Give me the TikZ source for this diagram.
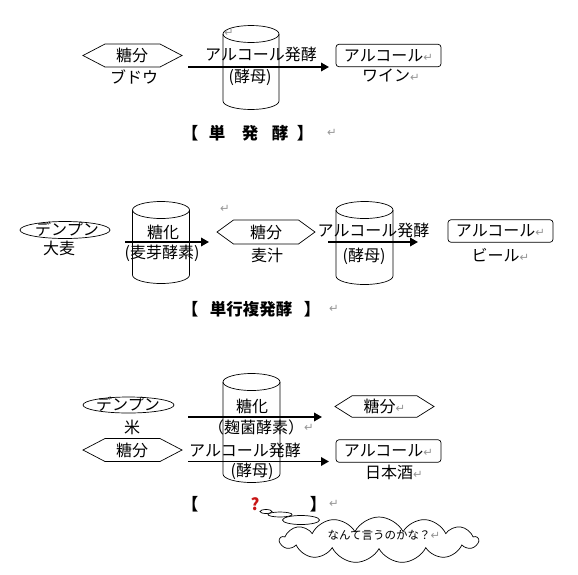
\documentclass[tikz,border=0pt]{standalone}
\usepackage{fontspec}
\setmainfont{Noto Sans CJK JP}
\newfontfamily\dvfont{DejaVu Sans}
\usetikzlibrary{arrows.meta,shapes.symbols}
\definecolor{retgray}{RGB}{150,150,150}
\definecolor{qred}{RGB}{200,20,20}
\newcommand{\rt}{{\dvfont\fontsize{11.5}{12}\selectfont\color{retgray}↵}}
% cylinder: name, cx, ytop, ybot, rx, ry
\newcommand{\mycyl}[6]{%
  \coordinate (#1) at (#2,{(#3+#4)/2});
  \draw[outline] ({#2-#5},#3) -- ({#2-#5},#4)
    .. controls ({#2-#5},{#4+0.5523*#6}) and ({#2-0.5523*#5},{#4+#6}) .. (#2,{#4+#6})
    .. controls ({#2+0.5523*#5},{#4+#6}) and ({#2+#5},{#4+0.5523*#6}) .. ({#2+#5},#4)
    -- ({#2+#5},#3);
  \draw[outline] (#2,#3) ellipse[x radius=#5, y radius=#6];
}
% hexagon: cx, cy, half width, inset, half height
\newcommand{\myhex}[5]{%
  \draw[outline] ({#1-#3},#2) -- ({#1-#3+#4},{#2-#5}) -- ({#1+#3-#4},{#2-#5})
    -- ({#1+#3},#2) -- ({#1+#3-#4},{#2+#5}) -- ({#1-#3+#4},{#2+#5}) -- cycle;
}
\tikzset{
  jp/.style={inner sep=0pt, font=\fontsize{16}{18}\selectfont},
  ttl/.style={inner sep=0pt, font=\fontsize{16.5}{18}\selectfont\bfseries},
  ret/.style={inner sep=0pt, font=\dvfont\fontsize{11.5}{12}\selectfont, text=retgray},
  outline/.style={draw=black, line width=0.7pt},
  flow/.style={line width=1.8pt, -{Triangle[length=8pt,width=8.5pt]}},
  rbox/.style={outline, rounded corners=3pt, minimum width=105pt, minimum height=22.5pt,
    inner sep=0pt, font=\fontsize{16}{18}\selectfont},
  bubble/.style={outline, fill=white}
}
\begin{document}
\begin{tikzpicture}[x=1pt,y=-1pt]
\fill[white] (0,0) rectangle (578,574);
\useasboundingbox (0,0) rectangle (578,574);

% ================= top: 単発酵 =================
\myhex{132.5}{55.5}{49.5}{22}{11.5}
\mycyl{cylA}{251}{34}{101}{28}{8.5}
\node[ret] (rA) at (229,33) {↵};
\node[jp] (sugA) at (132,55) {糖分};
\node[jp] (grape) at (134,76.5) {ブドウ};
\coordinate (a1s) at (188,67);
\coordinate (a1e) at (329,67);
\draw[flow] (a1s) -- (a1e);
\node[jp] (fermA) at (261,54) {アルコール発酵};
\node[jp] (yeastA) at (250,77) {(酵母)};
\node[rbox] (alcA) at (388.5,55.5) {アルコール\rt};
\node[jp] (wine) at (391,75.5) {ワイン\rt};
\node[ttl] (t1a) at (190,133) {【};
\node[ttl] (t1b) at (217,133) {単};
\node[ttl] (t1c) at (250,133) {発};
\node[ttl] (t1d) at (280,133) {酵};
\node[ttl] (t1e) at (305,133) {】};
\node[ret] (t1r) at (332,133) {↵};

% ================= middle: 単行複発酵 =================
\draw[outline] (65,230) ellipse[x radius=45, y radius=8.5];
\node[jp] (starchB) at (67,229) {デンプン};
\node[jp] (barley) at (59,248) {大麦};
\mycyl{cylB}{161}{210}{275}{28.5}{8.5}
\node[jp] (saccB) at (163,232) {糖化};
\node[jp] (maltenz) at (162,253) {(麦芽酵素)};
\coordinate (a2s) at (125,242);
\coordinate (a2e) at (209,242);
\draw[flow] (a2s) -- (a2e);
\node[ret] (rB) at (225,209) {↵};
\myhex{266}{232}{49}{16.5}{12}
\node[jp] (sugB) at (266,232) {糖分};
\node[jp] (wort) at (267,255) {麦汁};
\mycyl{cylC}{364.5}{210}{276}{28.5}{8.5}
\node[jp] (fermB) at (373.5,230) {アルコール発酵};
\node[jp] (yeastB) at (364,256) {(酵母)};
\coordinate (a3s) at (328,242);
\coordinate (a3e) at (418,242);
\draw[flow] (a3s) -- (a3e);
\node[rbox] (alcB) at (500.5,231) {アルコール\rt};
\node[jp] (beer) at (500.5,255) {ビール\rt};
\node[ttl] (t2a) at (190,309) {【};
\node[ttl] (t2b) at (251,309) {単行複発酵};
\node[ttl] (t2c) at (312,309) {】};
\node[ret] (t2r) at (334,309) {↵};

% ================= bottom =================
\draw[outline] (128.5,405) ellipse[x radius=45.5, y radius=8];
\node[jp] (starchC) at (128,404.5) {デンプン};
\node[jp] (rice) at (132,427) {米};
\myhex{132.5}{450}{49.5}{22}{11.5}
\node[jp] (sugC) at (132,450) {糖分};
\mycyl{cylD}{251.5}{382}{474}{28.5}{8.5}
\node[jp] (saccC) at (252,406) {糖化};
\node[jp] (kojienz) at (256,427) {（麹菌酵素）};
\node[ret] (rC) at (309,428) {↵};
\coordinate (a4s) at (188,417);
\coordinate (a4e) at (322,417);
\draw[flow] (a4s) -- (a4e);
\node[jp] (fermC) at (245,450) {アルコール発酵};
\node[jp] (yeastC) at (252,471.5) {(酵母)};
\coordinate (a5s) at (188,461.5);
\coordinate (a5e) at (329,461.5);
\draw[flow] (a5s) -- (a5e);
\myhex{384.5}{406.5}{49.5}{17}{10.7}
\node[jp] (sugD) at (384.5,406.5) {糖分\rt};
\node[rbox] (alcC) at (388.5,451) {アルコール\rt};
\node[jp] (sake) at (394,472) {日本酒\rt};
\node[ttl] (t3a) at (190,504) {【};
\node[ttl, text=qred] (t3q) at (255,504) {?};
\node[ttl] (t3c) at (318,504) {】};
\node[ret] (t3r) at (334,504) {↵};

% thought bubbles and cloud
\draw[bubble] (266,511.5) ellipse[x radius=6, y radius=2];
\draw[bubble] (280,514.5) ellipse[x radius=12, y radius=2.5];
\draw[bubble] (301,520) ellipse[x radius=18.5, y radius=4.5];
\node[cloud, cloud puffs=13, cloud puff arc=125, aspect=4.3, outline, fill=white,
  minimum width=198pt, minimum height=46pt, inner sep=0pt] (think) at (379,540) {};
\node[inner sep=0pt, font=\fontsize{11.5}{14}\selectfont] (q) at (384,535) {なんて言うのかな？\rt};
\end{tikzpicture}
\end{document}
